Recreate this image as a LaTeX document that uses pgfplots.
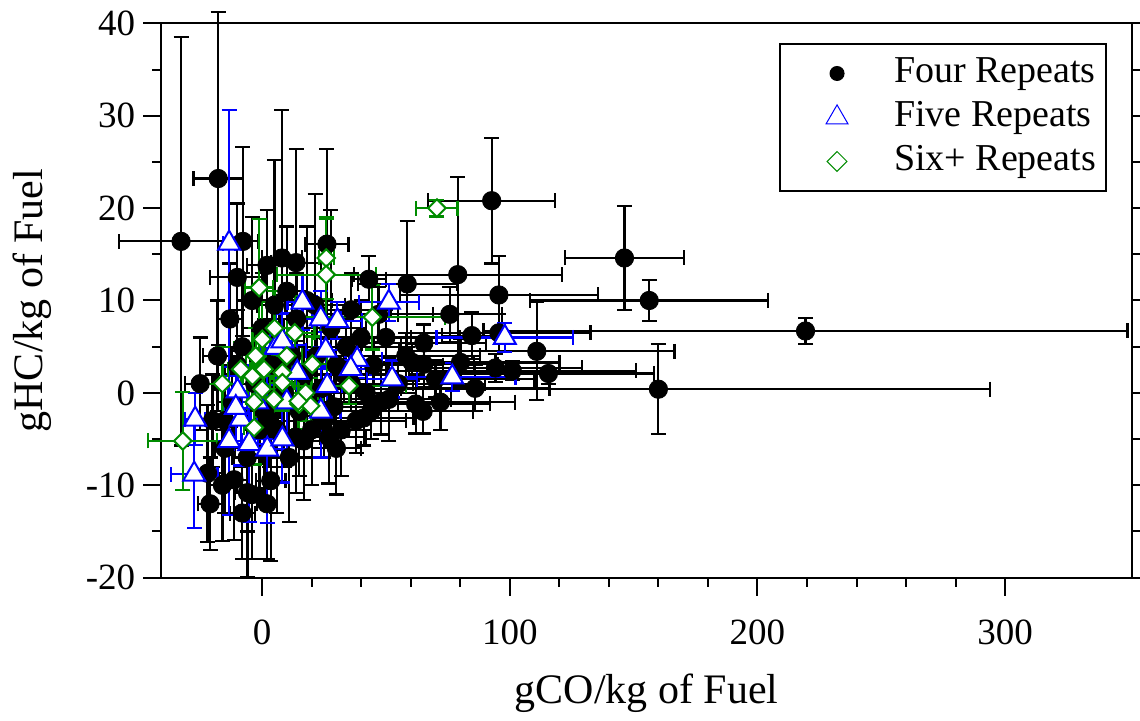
\documentclass[border=0pt]{standalone}
\usepackage{fontspec}
\setmainfont{Liberation Serif}
\usepackage{pgfplots}
\pgfplotsset{compat=1.18}
\usepackage{pgfplotstable}
\definecolor{sixgreen}{RGB}{0,140,0}

\pgfplotstableread{
x y ex ey
-32.7 16.4 25 22.1
-17.7 23.2 10 18
-7.7 16.4 6 10.2
-10 12.5 11 8
8 14.6 8 16
13.7 14.1 10 12.3
26.2 16.1 8.7 10.3
43.1 12.3 7 2.5
58.6 11.8 20 6.8
79 12.8 42 10.6
92.7 20.8 25.6 6.8
95.6 10.6 40 4.2
146.3 14.6 23.9 5.6
156.3 10.0 48 2.2
219.4 6.7 130 1.4
160 0.4 134 4.85
110.9 4.5 55.6 5.3
115.6 2.1 42.7 1.1
101 2.4 50 1.0
75.8 8.5 21 3
84.7 6.2 12 2.5
95.6 6.5 37 2
65.3 3.1 30 2.5
80.1 3.3 40 2.5
94.2 2.7 35 1.5
65 -2 20 2.4
65.3 5.4 25 2
60.6 3.3 25 2
62 -1.2 30 3.2
41.1 -2.7 20 3
51.2 -0.7 25 4.5
27 -4.8 15 5
16.9 -5.2 12 6.4
13.6 -4.8 10 6
-22 -8.7 6 7.4
-5.9 -10.8 5 9.1
-11.3 -9.4 6 6.5
3.5 -9.5 6 8.7
-20 -3 5 5
-18 4 6 6
-15 -6 4 7
-13 8 5 6
-12 -1 6 5
-8 5 5 8
-6 -7 6 8
-4 10 6 9
-3 1 7 6
-1 -4 5 7
0 7 8 6
1 -2 6 10
2 13.8 8 6
4 3 9 7
5 9.5 7 15.7
6 -4 8 9
7 5.6 10 5
9 0 10 8
10 11 8 7
11 -7 9 7
12 4 12 6
14 8 10 5
15 -2 12 7
17 2 14 5
18 10 10 8
20 -4 15 6
21.4 9.5 12 12
22 4 16 5
24 0.5 15 4
27.8 7 14 12.8
29 -1.5 18 4
30 3 20 3
32 -4 12 5
34 5 22 3
36 1 25 3
38 -3 20 3.5
40 6 20 4
45 3 28 3
48 -1 25 3.5
50 6 30 3
55 1 35 3
58 4 30 2.5
70 1.5 40 2
72 -1 30 3
86 0.5 30 2.5
47 8.5 22 3
36 9 16 4
-25 1 6 5
-21 -12 5 5
-16 -10 6 6
-4 -11 4 7
2 -12 4 6
-8 -13 5 5
3 -3 10 5
8 3 12 4
18 -1 10 4
25 -3 12 4
33 2 18 3
42 0 20 3
44 -2 22 3
30 -6 10 5
-10 3 6 6
-15 -3 5 6
}\fourdata

\pgfplotstableread{
x y ex ey
-13.3 16.2 2.4 14.4
-27 -2.85 4 2.8
-27.4 -8.8 9.4 5.8
-13.3 -5.2 5 8
-8.6 -2.85 4 5
-9.9 0.2 4 3
-10.6 -1.6 5 4
-5.2 -5.5 6 8.5
2.1 -6.1 8 8
8.2 -5.0 10 4.7
5.5 4.9 6 4
8.2 5.6 5 3
14.2 2.2 6 3
16.3 9.8 6 3
23.7 8.0 8 3
30.4 7.8 10 2
25.7 4.6 8 2
38.4 3.6 10 2
35.8 2.6 8 2
52.5 1.5 10 2
76.8 1.7 25.5 1.5
98 6.0 27.6 1.6
51.2 9.8 12 2
26.3 0.76 6 2
23.7 -2.0 8 5
-2 -1 6 4
10 -1 8 4
}\fivedata

\pgfplotstableread{
x y ex ey
70.6 20.0 8.3 0.9
25.9 14.6 3 4.4
25.9 12.8 20 6
-1.2 11.4 5.6 7.4
44.5 8.2 29.5 3.5
13.2 6.5 8 4
-32 -5.2 13.9 5.3
-16 1.0 8 4
-8.6 2.55 5 3
0.1 5.8 4 4
-2.6 4.0 4 3
0.1 2.55 5 3
-3.9 1.8 4 3
8.2 2.2 4 3
20.3 3.1 6 3
0.1 0.4 6 3
4.8 -0.7 5 3
8.2 1.1 5 3
17.6 0.0 5 3
14.9 -1.2 5 3
19.6 -1.4 5 3
-3.2 -3.75 4 4
35.1 0.76 23 2
14.6 -0.9 4 3
-3.2 -1.0 3 3
0.8 2.55 4 3
5 7 5 4
10 4 6 3
}\sixdata

\begin{document}
\begin{tikzpicture}
\begin{axis}[
  name=ax,
  scale only axis, width=485.25pt, height=277.2pt,
  xmin=-40.6, xmax=351.2, ymin=-20, ymax=40,
  clip=false,
  xtick={0,100,200,300}, minor x tick num=4,
  ytick={-20,-10,0,10,20,30,40}, minor y tick num=1,
  xtick pos=left, ytick pos=both,
  tick align=outside,
  major tick length=9pt, minor tick length=4.5pt,
  axis line style={line width=1pt},
  every tick/.style={black, line width=1pt},
  /pgf/number format/assume math mode=true,
  tick label style={font=\fontsize{18.5}{20}\selectfont},
  yticklabel style={anchor=east, inner sep=0pt},
  xticklabel style={anchor=north, inner sep=0pt},
  xticklabel shift=12pt,
  yticklabel shift=4pt,
  every axis x label/.style={at={(axis description cs:0.5,-0.2278)}, anchor=base, font=\fontsize{21}{24}\selectfont},
  every axis y label/.style={at={(axis description cs:-0.1231,0.5)}, anchor=base, rotate=90, font=\fontsize{21}{24}\selectfont},
  xlabel={gCO/kg of Fuel},
  ylabel={gHC/kg of Fuel},
  legend style={at={(axis description cs:0.9742,0.9645)}, anchor=north east, draw=black, line width=1pt, fill=white,
    inner xsep=5pt, inner ysep=5.25pt, row sep=3pt, font=\fontsize{19}{22}\selectfont,
    nodes={inner sep=0pt, text height=14pt, text depth=5pt}},
  legend cell align=left,
  legend image code/.code={\path[draw=none] (0pt,0pt) -- (52pt,0pt); \path[#1, draw=none] plot coordinates {(23.5pt,0pt)};},
]
\addplot[forget plot, only marks, black, mark=*, mark size=4.6pt,
  error bars/.cd, x dir=both, x explicit, y dir=both, y explicit,
  error bar style={line width=1.1pt, black},
  error mark options={rotate=90, mark size=3.75pt, line width=1.1pt, black}]
  table[x=x, y=y, x error=ex, y error=ey] {\fourdata};
\addplot[forget plot, only marks, blue, mark=triangle*, mark size=6.3pt,
  mark options={fill=white, draw=blue, line width=1pt},
  error bars/.cd, x dir=both, x explicit, y dir=both, y explicit,
  error bar style={line width=1.1pt, blue},
  error mark options={rotate=90, mark size=3.75pt, line width=1.1pt, blue}]
  table[x=x, y=y, x error=ex, y error=ey] {\fivedata};
\addplot[forget plot, only marks, sixgreen, mark=square*, mark size=3.1pt,
  mark options={rotate=45, fill=white, draw=sixgreen, line width=1pt},
  error bars/.cd, x dir=both, x explicit, y dir=both, y explicit,
  error bar style={line width=1.1pt, sixgreen},
  error mark options={rotate=90, mark size=3.75pt, line width=1.1pt, sixgreen}]
  table[x=x, y=y, x error=ex, y error=ey] {\sixdata};
\addlegendimage{only marks, black, mark=*, mark size=3.25pt, mark options={fill=black, draw=black}}
\addlegendentry{Four Repeats}
\addlegendimage{only marks, blue, mark=triangle*, mark size=6.3pt, mark options={fill=white, draw=blue, line width=0.5pt}}
\addlegendentry{Five Repeats}
\addlegendimage{only marks, sixgreen, mark=square*, mark size=3.5pt, mark options={rotate=45, fill=white, draw=sixgreen, line width=0.5pt}}
\addlegendentry{Six+ Repeats}
\end{axis}
\pgfresetboundingbox
\path[use as bounding box] ([xshift=-80.75pt,yshift=-71.65pt]ax.south west) rectangle ([xshift=4pt,yshift=11.65pt]ax.north east);
\end{tikzpicture}
\end{document}
